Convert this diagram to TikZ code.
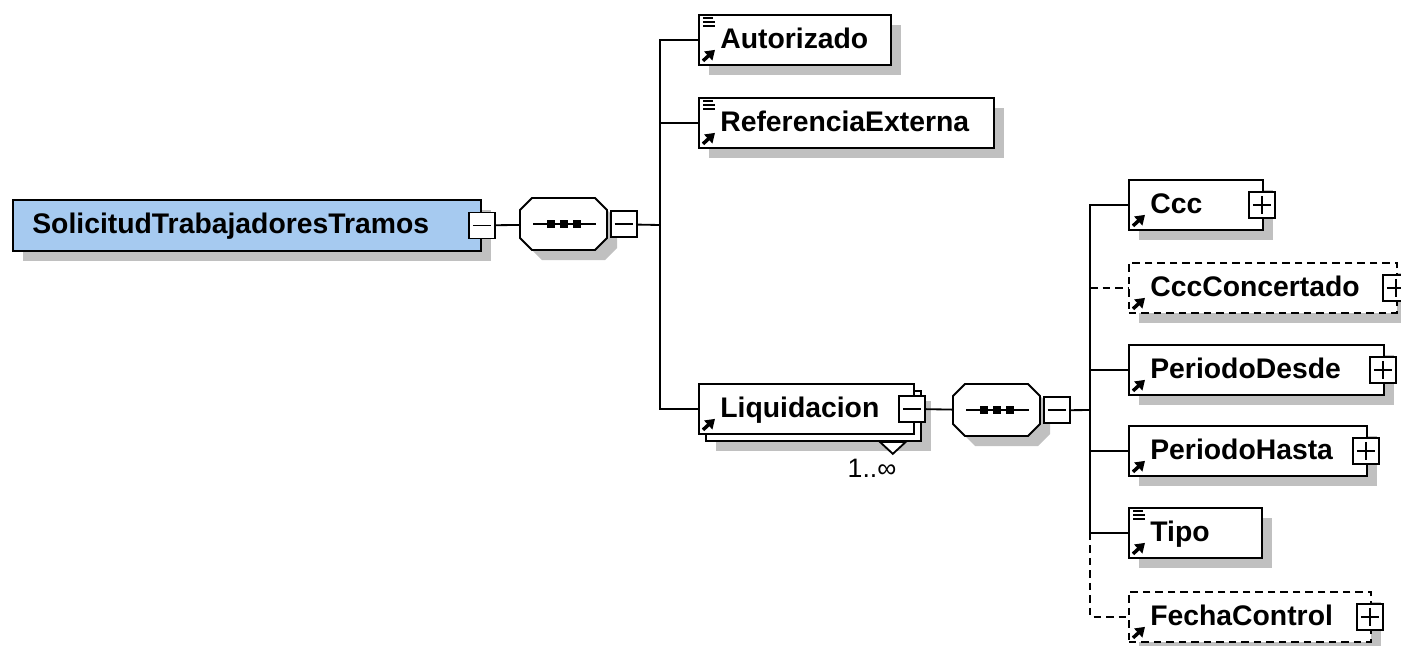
\documentclass[tikz,border=0pt]{standalone}
\usepackage{fontspec}
\setmainfont{Liberation Sans}
\usetikzlibrary{positioning,shadows,arrows.meta}
\definecolor{rootblue}{RGB}{166,202,240}
\definecolor{shadowgray}{RGB}{192,192,192}
\tikzset{
  elem/.style={draw, fill=white, line width=1.1pt, anchor=north west,
    minimum height=30pt, inner sep=0pt,
    drop shadow={shadow xshift=6pt, shadow yshift=-6pt, opacity=1, fill=shadowgray}},
  optelem/.style={elem, dash pattern=on 4.5pt off 3pt},
  multi/.style={draw, fill=white, line width=1.1pt, anchor=north west,
    minimum height=30pt, inner sep=0pt,
    drop shadow={shadow xshift=10.2pt, shadow yshift=-10.2pt, opacity=1, fill=shadowgray},
    copy shadow={shadow xshift=4.2pt, shadow yshift=-4.2pt, opacity=1, fill=white, draw=black}},
  lbl/.style={anchor=base west, inner sep=0pt, font=\bfseries\fontsize{17}{20}\selectfont},
  btn/.style={draw, fill=white, line width=1.1pt, minimum size=15.6pt, inner sep=0pt},
  minus/.style={btn, path picture={
    \draw[line width=1.1pt] ([xshift=2.4pt]path picture bounding box.west)
      -- ([xshift=-2.4pt]path picture bounding box.east);}},
  plus/.style={btn, path picture={
    \draw[line width=1.1pt] ([xshift=2.4pt]path picture bounding box.west)
      -- ([xshift=-2.4pt]path picture bounding box.east);
    \draw[line width=1.1pt] ([yshift=-2.4pt]path picture bounding box.north)
      -- ([yshift=2.4pt]path picture bounding box.south);}},
  seq/.style={anchor=north west, minimum width=52.2pt, minimum height=31.2pt, inner sep=0pt},
  wire/.style={line width=1.1pt},
  optwire/.style={wire, dash pattern=on 4.5pt off 3pt},
  refarrow/.style={line width=2.1pt, -{Triangle[length=5.5pt,width=7pt]}}
}
\begin{document}
\begin{tikzpicture}[x=0.6pt, y=-0.6pt]
    \useasboundingbox (0,0) rectangle (1401,645);
    \def \Elems {
      aut/698/14/192/Autorizado/elem/1,
      ref/698/97/295/ReferenciaExterna/elem/1,
      liq/698/383/215/Liquidacion/multi/0,
      ccc/1128/179/134/Ccc/elem/0,
      cccc/1128/262/268/CccConcertado/optelem/0,
      ppd/1128/344/255/PeriodoDesde/elem/0,
      pph/1128/425/238/PeriodoHasta/elem/0,
      tipo/1128/507/133/Tipo/elem/1,
      fch/1128/591/242/FechaControl/optelem/0}

    \node[elem, fill=rootblue, minimum width=280.8pt, minimum height=30.6pt] (root) at (12,199) {};
    \node[lbl] (root-t) at ([shift={(20,8)}]root.west) {SolicitudTrabajadoresTramos};
    \node[minus] (root-b) at (root.east) {};

    \node[seq] (seqA) at (520,198) {};
    \node[seq] (seqB) at (953,384) {};
    \foreach \s in {seqA,seqB} {
      \fill[shadowgray] ([shift={(22,10)}]\s.north west) -- ++(63,0) -- ++(12,12) -- ++(0,28)
        -- ++(-12,12) -- ++(-63,0) -- ++(-12,-12) -- ++(0,-28) -- cycle;
      \filldraw[wire, fill=white] ([shift={(12,0)}]\s.north west) -- ++(63,0) -- ++(12,12) -- ++(0,28)
        -- ++(-12,12) -- ++(-63,0) -- ++(-12,-12) -- ++(0,-28) -- cycle;
      \draw[line width=1.1pt] ([xshift=7.8pt]\s.west) -- ([xshift=-7.2pt]\s.east);
      \foreach \d in {-13,0,13}
        \fill ([shift={({\d-4},-4)}]\s.center) rectangle ++(8,8);
    }
    \node[minus, right=1.2pt of seqA] (seqA-b) {};
    \node[minus, right=1.2pt of seqB] (seqB-b) {};

    \foreach \id / \x / \y / \w / \txt / \st / \doc in \Elems {
      \node[\st, minimum width=\w*0.6pt] (\id) at (\x,\y) {};
      \node[lbl] (\id-t) at ([shift={(22,9)}]\id.west) {\txt};
      \draw[refarrow] ([shift={(5,-5)}]\id.south west) -- ([shift={(17,-16)}]\id.south west);
      \ifnum\doc=1
        \foreach \k/\l in {4/10,8/12,11.5/12}
          \draw[line width=1.2pt] ([shift={(5,\k)}]\id.north west) -- ++(\l,0);
      \fi
    }
    \foreach \id in {ccc,cccc,ppd,pph,fch}
      \node[plus] (\id-b) at ([xshift=-1.2pt]\id.east) {};
    \node[minus] (liq-b) at ([xshift=-1.8pt]liq.east) {};

    \filldraw[line width=1.1pt, fill=white] ([shift={(-35,7)}]liq.south east)
      -- ([shift={(-9,7)}]liq.south east) -- ([shift={(-22,19)}]liq.south east) -- cycle;
    \node[inner sep=0pt, font=\fontsize{16}{18}\selectfont] (liq-m) at (872,468) {1..∞};

    \coordinate (trunkA) at (660,225);
    \coordinate (trunkB) at (1090,410);
    \draw[wire] (root-b) -- (seqA);
    \draw[wire] (seqA-b) -- (trunkA);
    \foreach \id in {aut,ref,liq}
      \draw[wire] (trunkA) |- (\id.west);
    \draw[wire] (liq-b) -- (seqB);
    \draw[wire] (seqB-b) -- (trunkB);
    \foreach \id in {ccc,ppd,pph,tipo}
      \draw[wire] (trunkB) |- (\id.west);
    \draw[optwire] (trunkB |- cccc.west) -- (cccc.west);
    \draw[optwire] (trunkB |- tipo.west) |- (fch.west);
  \end{tikzpicture}
\end{document}
